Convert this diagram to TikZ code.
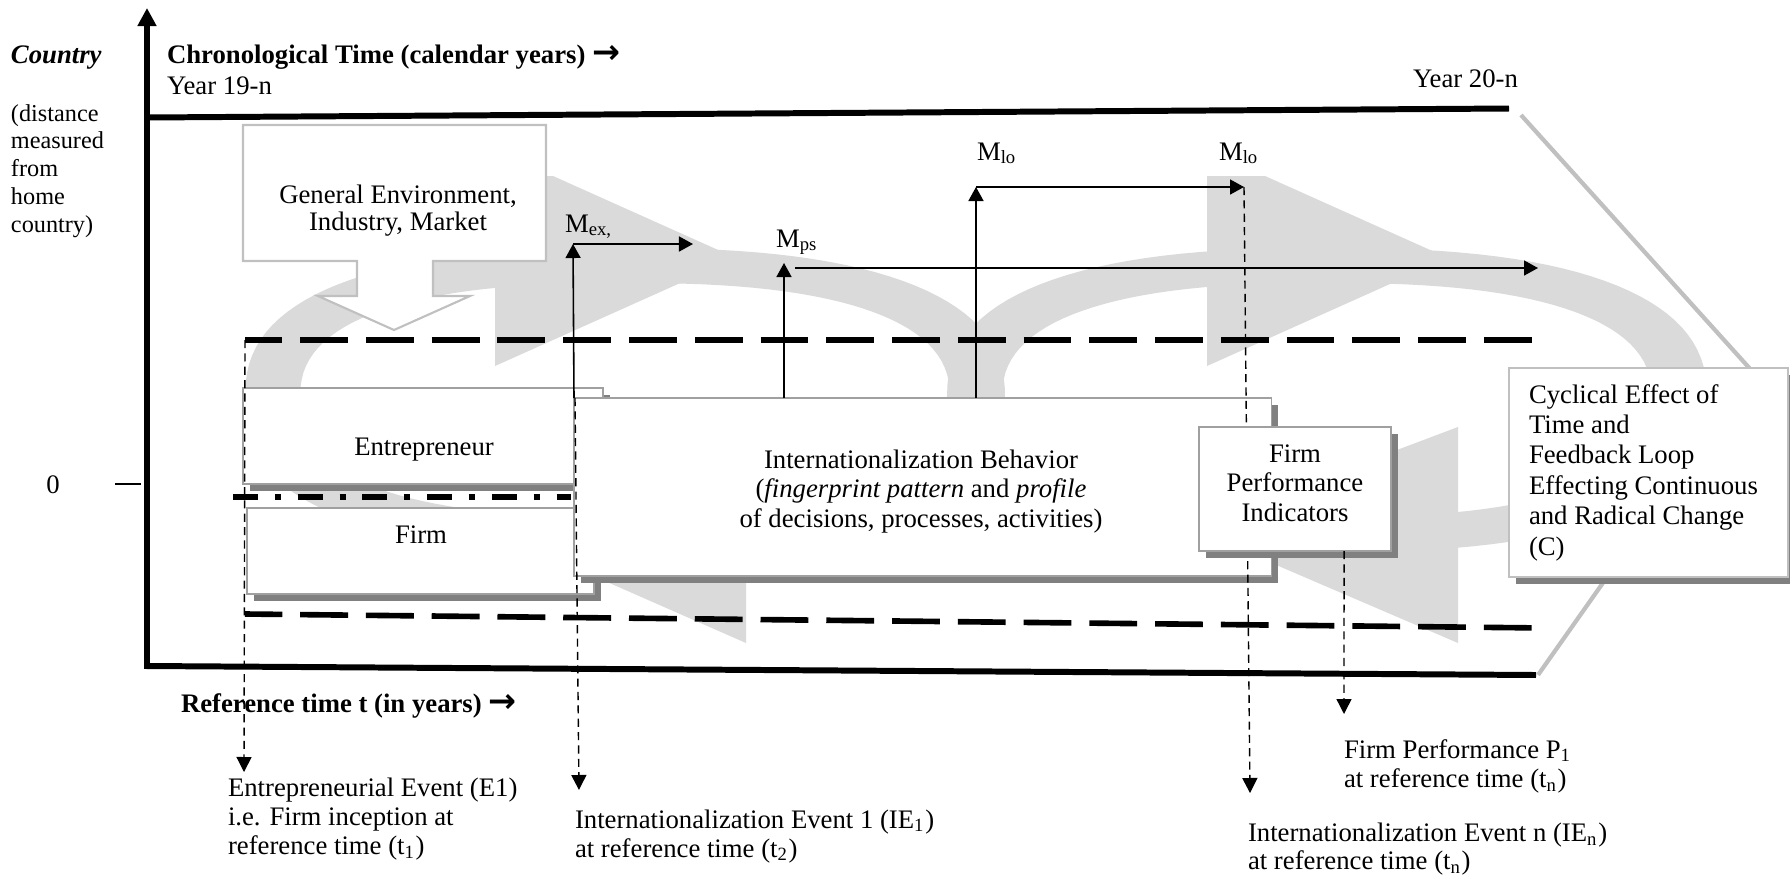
\documentclass[tikz,border=0pt]{standalone}
\usepackage{fontspec}
\setmainfont{Liberation Serif}
\newfontfamily\arrowfont{DejaVu Sans}
\usetikzlibrary{arrows.meta,shadows,calc}
\definecolor{ringgrey}{HTML}{DADADA}
\definecolor{boxline}{HTML}{A0A0A0}
\definecolor{shadowgrey}{HTML}{808080}
\definecolor{lightline}{HTML}{C0C0C0}
\newcommand\mainsize{\fontsize{7.6}{8.5}\selectfont}
\newcommand\rarrow{{\arrowfont\bfseries\fontsize{9.5}{8}\selectfont →}}
\begin{document}
\begin{tikzpicture}[x=0.01cm,y=-0.01cm,
  txt/.style={inner sep=0pt, outer sep=0pt, font=\mainsize},
  boxnode/.style={draw=boxline, line width=0.5pt, fill=white, inner sep=0pt, outer sep=0pt,
    drop shadow={shadow xshift=0.65mm, shadow yshift=-0.65mm, fill=shadowgrey, opacity=1}},
  axisline/.style={line width=1.7pt},
  bigdash/.style={line width=1.6pt, dash pattern=on 13.6pt off 5.1pt, dash phase=3pt},
  dashdotline/.style={line width=1.6pt, dash pattern=on 7.1pt off 4.8pt on 1.7pt off 4.8pt},
  thinarrow/.style={line width=0.45pt, -{Triangle[length=1.4mm,width=1.5mm]}},
  dasharrow/.style={line width=0.4pt, dash pattern=on 2.3pt off 1.5pt, -{Triangle[length=1.5mm,width=1.5mm]}},
  diagline/.style={draw=lightline, line width=1.2pt},
  ringfill/.style={fill=ringgrey, even odd rule}
]
\useasboundingbox (0,0) rectangle (1790,878);
\fill[white] (0,0) rectangle (1790,878);

% grey cycle rings
\fill[ringfill]
  plot[domain=0.5:360.5, samples=121, variable=\t] ({625+380*sign(cos(\t))*pow(abs(cos(\t)),0.8)}, {400+152*sign(sin(\t))*pow(abs(sin(\t)),0.8)}) -- cycle
  plot[domain=0.5:360.5, samples=121, variable=\t] ({625+325*sign(cos(\t))*pow(abs(cos(\t)),0.8)}, {400+117*sign(sin(\t))*pow(abs(sin(\t)),0.8)}) -- cycle;
\fill[ringfill]
  plot[domain=0.5:360.5, samples=121, variable=\t] ({1327+380*sign(cos(\t))*pow(abs(cos(\t)),0.8)}, {400+152*sign(sin(\t))*pow(abs(sin(\t)),0.8)}) -- cycle
  plot[domain=0.5:360.5, samples=121, variable=\t] ({1327+325*sign(cos(\t))*pow(abs(cos(\t)),0.8)}, {400+117*sign(sin(\t))*pow(abs(sin(\t)),0.8)}) -- cycle;
% ring arrowheads
\fill[ringgrey] (495,176) -- (553,176) -- (736,258) -- (495,366) -- cycle;
\fill[ringgrey] (1207,176) -- (1265,176) -- (1448,258) -- (1207,366) -- cycle;
\fill[ringgrey] (746,440) -- (746,643) -- (523,545) -- cycle;
\fill[ringgrey] (1458,427) -- (1458,643) -- (1190,528) -- cycle;

% frame lines
\coordinate (axbot) at (147,666);
\coordinate (axtop) at (147,8);
\coordinate (botR) at (1536,675);
\coordinate (topL) at (147,117.5);
\coordinate (topR) at (1509,108.5);
\draw[axisline, -{Triangle[length=1.8mm,width=1.8mm]}] (botR) -- (axbot) -- (axtop);
\draw[axisline] (topL) -- (topR);
\coordinate (diagA1) at (1521,115);
\coordinate (diagA2) at (1752,371);
\coordinate (diagB1) at (1538,675);
\coordinate (diagB2) at (1612,570);
\draw[diagline] (diagA1) -- (diagA2);
\draw[diagline] (diagB1) -- (diagB2);

% dashed boundary lines
\coordinate (upL) at (245,340);
\coordinate (upR) at (1536,340);
\coordinate (loL) at (245,614);
\coordinate (loR) at (1545,628);
\draw[bigdash] (upL) -- (upR);
\draw[bigdash] (loL) -- (loR);

% callout
\draw[draw=lightline, line width=0.6pt, fill=white] (243,125) -- (546,125) -- (546,261) -- (433,261) -- (433,296) -- (470,296) -- (394,330) -- (318,296) -- (357,296) -- (357,261) -- (243,261) -- cycle;
\node[txt, align=center, font=\fontsize{7.6}{7.7}\selectfont] (genv) at (398,212) {\strut General Environment,\\Industry, Market\strut};

% boxes
\node[boxnode, minimum width=3.6cm, minimum height=0.96cm, anchor=north west] (entbox) at (243,388) {};
\node[boxnode, minimum width=3.47cm, minimum height=0.86cm, anchor=north west] (firmbox) at (247,508) {};
\coordinate (ddL) at (233,497);
\coordinate (ddR) at (571,497);
\draw[dashdotline] (ddL) -- (ddR);
\node[boxnode, minimum width=6.97cm, minimum height=1.78cm, anchor=north west] (intlbox) at (574,398) {};

\node[txt, anchor=base] (enttext) at (424,455) {Entrepreneur};
\node[txt, anchor=base] (firmtext) at (421,543) {Firm};
\node[txt, align=center] (intltext) at (921,492) {\strut Internationalization Behavior\\(\textit{fingerprint pattern} and \textit{profile}\\of decisions, processes, activities)\strut};

% mode arrows
\coordinate (mexbase) at (intlbox.north west);
\coordinate (mexcorner) at (573,244);
\coordinate (mexend) at (693,244);
\draw[thinarrow] (mexbase) -- (mexcorner);
\draw[thinarrow] (mexcorner) -- (mexend);
\coordinate (mpsbase) at ($(intlbox.north west)+(210,0)$);
\coordinate (mpstip) at (784,263);
\draw[thinarrow] (mpsbase) -- (mpstip);
\coordinate (mpsstart) at (795,268);
\coordinate (mpsend) at (1538,268);
\draw[thinarrow] (mpsstart) -- (mpsend);
\coordinate (mlobase) at ($(intlbox.north west)+(402,0)$);
\coordinate (mlocorner) at (976,187);
\coordinate (mloend) at (1244,187);
\draw[thinarrow] (mlobase) -- (mlocorner);
\draw[thinarrow] (mlocorner) -- (mloend);

\node[txt, anchor=base west] (mex) at (565,232) {M\textsubscript{ex,}};
\node[txt, anchor=base west] (mps) at (776,247) {M\textsubscript{ps}};
\node[txt, anchor=base west] (mloa) at (977,160) {M\textsubscript{lo}};
\node[txt, anchor=base west] (mlob) at (1219,160) {M\textsubscript{lo}};

% dashed event arrows
\coordinate (e1tip) at (244,772);
\coordinate (ie1top) at (575,398);
\coordinate (ie1tip) at (579,790);
\coordinate (ientip) at (1250,793);
\draw[dasharrow] (upL) -- (e1tip);
\draw[dasharrow] (ie1top) -- (ie1tip);
\draw[dasharrow] (mloend) -- (ientip);

\node[boxnode, minimum width=1.92cm, minimum height=1.24cm, anchor=north west] (fpbox) at (1199,427) {};
\node[txt, align=center] (fptext) at (1295,486) {\strut Firm\\Performance\\Indicators\strut};
\coordinate (fptop) at ($(fpbox.south)+(49,0)$);
\coordinate (fptip) at (1344,714);
\draw[dasharrow] (fptop) -- (fptip);

\node[boxnode, draw=lightline, minimum width=2.79cm, minimum height=2.09cm, anchor=north west] (cycbox) at (1509,368) {};
\node[txt, align=left, anchor=west, font=\fontsize{7.6}{8.65}\selectfont] (cyctext) at (1529,473) {\strut Cyclical Effect of\\Time and\\Feedback Loop\\Effecting Continuous\\and Radical Change\\(C)\strut};

% axis labels
\node[txt, anchor=base west, font=\mainsize\bfseries\itshape] (country) at (11,63) {Country};
\node[txt, anchor=west, align=left, font=\fontsize{6.9}{7.9}\selectfont] (dist) at (11,171) {\strut(distance\\measured\\from\\home\\country)\strut};
\node[txt, anchor=base west, font=\mainsize\bfseries] (chrono) at (167,63) {Chronological Time (calendar years) \rarrow};
\node[txt, anchor=base west] (y19) at (167,94) {Year 19-n};
\node[txt, anchor=base west] (y20) at (1413,87) {Year 20-n};
\node[txt, anchor=base] (zero) at (53,493) {0};
\coordinate (tickL) at (115,484);
\coordinate (tickR) at (141,484);
\draw[line width=0.5pt] (tickL) -- (tickR);
\node[txt, anchor=base west, font=\mainsize\bfseries] (reft) at (181,712) {Reference time t (in years) \rarrow};

% event texts
\node[txt, anchor=west, align=left, font=\fontsize{7.6}{8.25}\selectfont] (e1text) at (228,820) {\strut Entrepreneurial Event (E1)\\i.e. Firm inception at\\reference time (t\textsubscript{1})\strut};
\node[txt, anchor=west, align=left, font=\fontsize{7.6}{8.25}\selectfont] (ie1text) at (575,837) {\strut Internationalization Event 1 (IE\textsubscript{1})\\at reference time (t\textsubscript{2})\strut};
\node[txt, anchor=west, align=left] (fptext2) at (1344,767) {\strut Firm Performance P\textsubscript{1}\\at reference time (t\textsubscript{n})\strut};
\node[txt, anchor=west, align=left, font=\fontsize{7.6}{8.0}\selectfont] (ientext) at (1248,850) {\strut Internationalization Event n (IE\textsubscript{n})\\at reference time (t\textsubscript{n})\strut};
\end{tikzpicture}
\end{document}
